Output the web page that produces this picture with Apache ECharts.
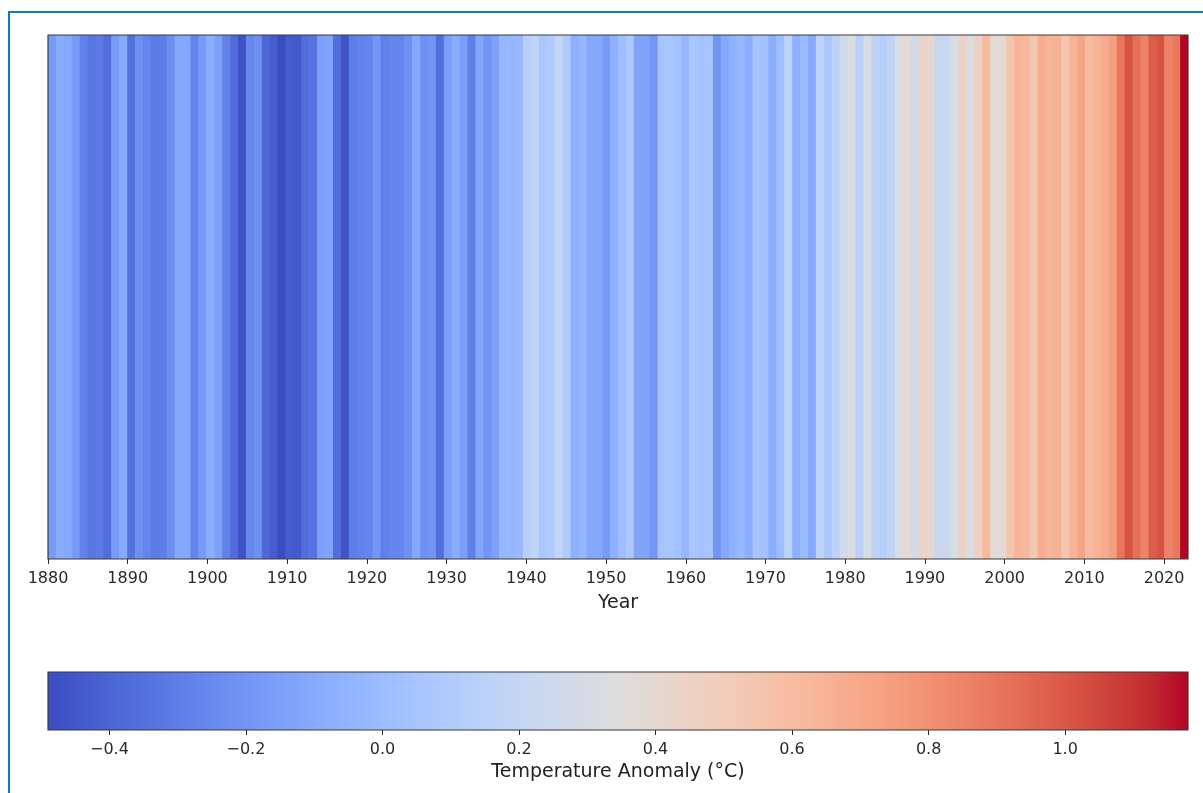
<!DOCTYPE html>
<html>
<head>
<meta charset="utf-8">
<script src="https://cdn.jsdelivr.net/npm/echarts@6/dist/echarts.min.js"></script>
<style>
html,body{margin:0;padding:0;background:#fff;}
#chart{width:1203px;height:793px;}
</style>
</head>
<body>
<div id="chart"></div>
<script>
// Years (categories) 1880..2023
const years = [
1880,1881,1882,1883,1884,1885,1886,1887,1888,1889,
1890,1891,1892,1893,1894,1895,1896,1897,1898,1899,
1900,1901,1902,1903,1904,1905,1906,1907,1908,1909,
1910,1911,1912,1913,1914,1915,1916,1917,1918,1919,
1920,1921,1922,1923,1924,1925,1926,1927,1928,1929,
1930,1931,1932,1933,1934,1935,1936,1937,1938,1939,
1940,1941,1942,1943,1944,1945,1946,1947,1948,1949,
1950,1951,1952,1953,1954,1955,1956,1957,1958,1959,
1960,1961,1962,1963,1964,1965,1966,1967,1968,1969,
1970,1971,1972,1973,1974,1975,1976,1977,1978,1979,
1980,1981,1982,1983,1984,1985,1986,1987,1988,1989,
1990,1991,1992,1993,1994,1995,1996,1997,1998,1999,
2000,2001,2002,2003,2004,2005,2006,2007,2008,2009,
2010,2011,2012,2013,2014,2015,2016,2017,2018,2019,
2020,2021,2022,2023];

// Annual temperature anomaly (°C)
const anomalies = [
-0.17,-0.09,-0.11,-0.17,-0.28,-0.33,-0.31,-0.36,-0.17,-0.10,
-0.35,-0.22,-0.27,-0.31,-0.30,-0.23,-0.11,-0.11,-0.27,-0.17,
-0.08,-0.15,-0.28,-0.37,-0.47,-0.26,-0.22,-0.39,-0.43,-0.49,
-0.43,-0.44,-0.36,-0.34,-0.15,-0.14,-0.36,-0.46,-0.30,-0.28,
-0.27,-0.19,-0.29,-0.27,-0.27,-0.22,-0.11,-0.22,-0.20,-0.36,
-0.16,-0.09,-0.16,-0.29,-0.12,-0.20,-0.15,-0.03,-0.03,-0.02,
0.13,0.18,0.07,0.09,0.20,0.09,-0.07,-0.03,-0.11,-0.11,
-0.17,-0.07,0.01,0.08,-0.13,-0.14,-0.19,0.05,0.06,0.03,
-0.03,0.06,0.03,0.05,-0.20,-0.11,-0.06,-0.02,-0.08,0.05,
0.03,-0.08,0.01,0.16,-0.07,-0.01,-0.10,0.18,0.07,0.16,
0.26,0.32,0.14,0.31,0.16,0.12,0.18,0.32,0.39,0.27,
0.45,0.40,0.22,0.23,0.31,0.45,0.33,0.46,0.61,0.38,
0.39,0.54,0.63,0.62,0.53,0.68,0.64,0.66,0.54,0.65,
0.72,0.61,0.65,0.68,0.74,0.90,1.01,0.92,0.85,0.98,
1.01,0.85,0.89,1.18];

const yearTicks = [1880,1890,1900,1910,1920,1930,1940,1950,1960,1970,1980,1990,2000,2010,2020];
const cbTicks = [-0.4,-0.2,0.0,0.2,0.4,0.6,0.8,1.0];

// matplotlib "coolwarm" colormap stops
const coolwarm = ['#3b4cc0','#445acc','#4d68d7','#5775e1','#6282ea','#6c8ef1','#779af7','#82a5fb',
'#8db0fe','#98b9ff','#a3c2ff','#aec9fd','#b8d0f9','#c2d5f4','#ccd9ee','#d5dbe6','#dddddd',
'#e5d8d1','#ecd3c5','#f1ccb9','#f5c4ad','#f7bba0','#f7b194','#f7a687','#f49a7b','#f18d6f',
'#ec7f63','#e57058','#de604d','#d55042','#cb3e38','#c0282f','#b40426'];

const vMin = Math.min.apply(null, anomalies);
const vMax = Math.max.apply(null, anomalies);

const FONT = 'DejaVu Sans';
const TXT = '#2a2a2a';

const chart = echarts.init(document.getElementById('chart'), null, {renderer: 'canvas'});

const gradientStops = coolwarm.map((c, i) => ({offset: i / (coolwarm.length - 1), color: c}));

const option = {
  animation: false,
  backgroundColor: '#fff',
  grid: [
    {left: 48, top: 35, width: 1140, height: 524, containLabel: false},
    {left: 48, top: 672, width: 1140, height: 58, containLabel: false}
  ],
  xAxis: [
    {type: 'category', gridIndex: 0, data: years, show: false, boundaryGap: true},
    {type: 'value', gridIndex: 0, min: years[0], max: years[years.length - 1], position: 'bottom',
      name: 'Year', nameLocation: 'middle', nameGap: 35,
      nameTextStyle: {fontFamily: FONT, fontSize: 19, color: '#222'},
      axisLine: {show: false},
      splitLine: {show: false},
      axisTick: {show: true, length: 5, lineStyle: {color: TXT}, customValues: yearTicks},
      axisLabel: {show: true, margin: 12, fontFamily: FONT, fontSize: 16, color: TXT, customValues: yearTicks,
        formatter: v => String(v)}
    },
    {type: 'value', gridIndex: 1, min: vMin, max: vMax, position: 'bottom',
      name: 'Temperature Anomaly (°C)', nameLocation: 'middle', nameGap: 33,
      nameTextStyle: {fontFamily: FONT, fontSize: 19, color: '#222'},
      axisLine: {show: false},
      splitLine: {show: false},
      axisTick: {show: true, length: 5, lineStyle: {color: TXT}, customValues: cbTicks},
      axisLabel: {show: true, margin: 12, fontFamily: FONT, fontSize: 16, color: TXT, customValues: cbTicks,
        formatter: v => (v < -1e-9 ? '\u2212' : '') + Math.abs(v).toFixed(1)}
    }
  ],
  yAxis: [
    {type: 'value', gridIndex: 0, min: 0, max: 1, show: false},
    {type: 'value', gridIndex: 1, min: 0, max: 1, show: false}
  ],
  visualMap: [{
    show: false, type: 'continuous', seriesIndex: 0, dimension: 1,
    min: vMin, max: vMax, inRange: {color: coolwarm}
  }],
  series: [
    {
      name: 'stripes', type: 'custom', xAxisIndex: 0, yAxisIndex: 0, clip: true, silent: true,
      data: anomalies.map((v, i) => [i, v]),
      encode: {x: 0, y: 1},
      renderItem: function (params, api) {
        const i = api.value(0);
        const p0 = api.coord([i, 0]);
        const p1 = api.coord([i, 1]);
        const w = api.size([1, 0])[0];
        return {
          type: 'rect',
          shape: {x: p0[0] - w / 2, y: p1[1], width: w + 0.6, height: p0[1] - p1[1]},
          style: {fill: api.visual('color')}
        };
      }
    },
    {
      name: 'frame', type: 'custom', xAxisIndex: 0, yAxisIndex: 0, silent: true, z: 10, clip: false,
      data: [[0, 0]],
      renderItem: function (params, api) {
        const cs = params.coordSys;
        return {
          type: 'rect',
          shape: {x: cs.x, y: cs.y, width: cs.width, height: cs.height},
          style: {fill: 'none', stroke: '#3a3a3a', lineWidth: 1.2}
        };
      }
    },
    {
      name: 'colorbar', type: 'custom', xAxisIndex: 2, yAxisIndex: 1, silent: true, clip: false,
      data: [[vMin, 0]],
      renderItem: function (params, api) {
        const a = api.coord([vMin, 0]);
        const b = api.coord([vMax, 1]);
        return {
          type: 'rect',
          shape: {x: a[0], y: b[1], width: b[0] - a[0], height: a[1] - b[1]},
          style: {
            fill: {type: 'linear', x: 0, y: 0, x2: 1, y2: 0, colorStops: gradientStops},
            stroke: '#3a3a3a', lineWidth: 1.2
          }
        };
      }
    }
  ],
  graphic: [{
    type: 'rect', silent: true, z: 100,
    shape: {x: 9, y: 12, width: 1260, height: 860},
    style: {fill: 'none', stroke: '#1479cc', lineWidth: 2}
  }]
};

chart.setOption(option);
</script>
</body>
</html>
